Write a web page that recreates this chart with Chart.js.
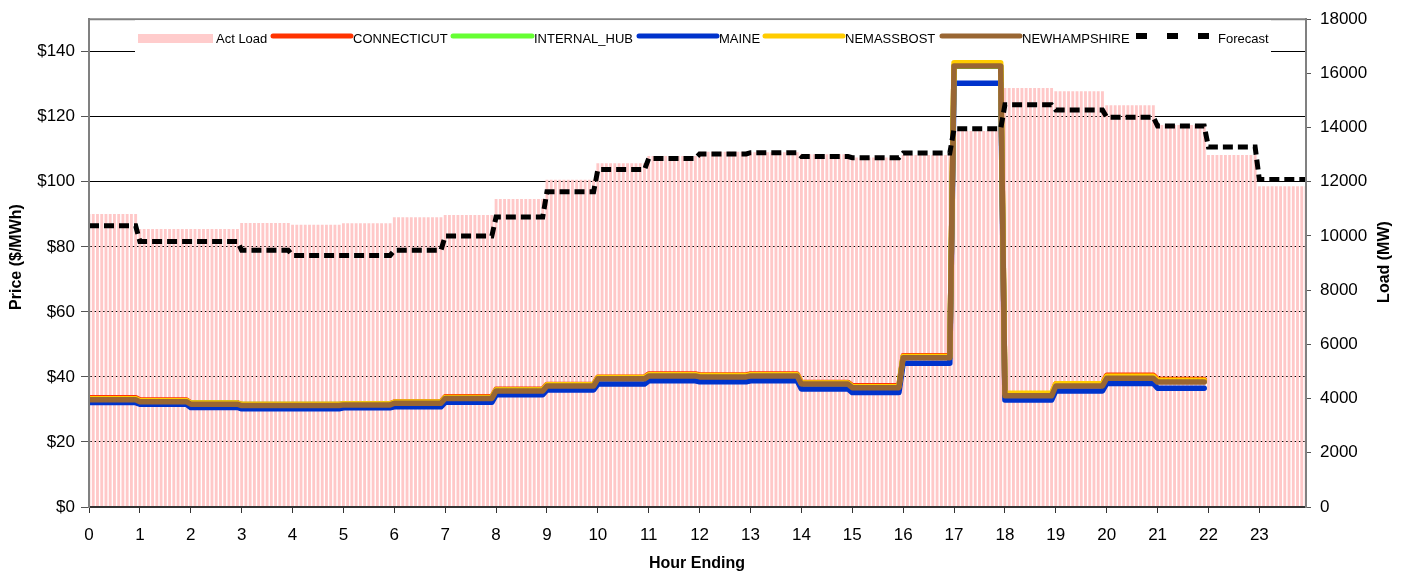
<!DOCTYPE html>
<html>
<head>
<meta charset="utf-8">
<script src="https://cdn.jsdelivr.net/npm/chart.js@4"></script>
<style>
  html, body { margin: 0; padding: 0; background: #fff; }
</style>
</head>
<body>
<canvas id="chart" width="1402" height="573"></canvas>
<script>
// hourly values, hour ending 0..23 (each hour is shown as 12 five-minute steps)
const hourTicks = [0, 1, 2, 3, 4, 5, 6, 7, 8, 9, 10, 11, 12, 13, 14, 15, 16, 17, 18, 19, 20, 21, 22, 23];

const actLoad = [10800, 10250, 10250, 10470, 10400, 10460, 10680, 10760, 11350, 12060, 12670, 12940,
                 13100, 13075, 13000, 12880, 12980, 13860, 15450, 15330, 14815, 14080, 12980, 11820];
const forecast = [10375, 9800, 9800, 9470, 9285, 9285, 9470, 10000, 10700, 11630, 12450, 12860,
                  13030, 13075, 12930, 12890, 13060, 13955, 14840, 14650, 14385, 14055, 13285, 12085];

const connecticut  = [33.6, 32.9, 32.0, 31.5, 31.5, 31.7, 32.3, 33.9, 36.2, 37.7, 39.9, 40.9,
                      40.6, 40.9, 38.3, 37.3, 46.5, 135.5, 34.6, 37.9, 40.5, 39.2, null, null];
const internalHub  = [33.2, 32.6, 31.9, 31.5, 31.5, 31.6, 32.1, 33.6, 35.9, 37.4, 39.6, 40.5,
                      40.2, 40.5, 38.0, 36.9, 46.1, 135.5, 34.5, 37.5, 39.9, 38.7, null, null];
const maine        = [32.1, 31.6, 30.6, 30.2, 30.2, 30.5, 30.8, 32.2, 34.5, 36.0, 37.8, 38.8,
                      38.5, 38.8, 36.3, 35.2, 44.2, 130.3, 32.9, 35.7, 38.0, 36.5, null, null];
const neMassBost   = [33.3, 32.7, 31.9, 31.5, 31.5, 31.7, 32.2, 33.7, 36.0, 37.6, 39.8, 40.7,
                      40.4, 40.7, 38.1, 37.0, 46.3, 136.6, 35.0, 37.9, 40.2, 39.0, null, null];
const newHampshire = [33.0, 32.4, 31.6, 31.2, 31.2, 31.4, 31.9, 33.4, 35.7, 37.2, 39.4, 40.3,
                      40.0, 40.3, 37.8, 36.7, 45.9, 135.6, 34.2, 37.2, 39.6, 38.4, null, null];

// repeat each hourly value over the hour's 12 five-minute intervals
function fiveMinute(hourly) {
  const pts = [];
  hourly.forEach((v, h) => {
    for (let k = 0; k < 12; k++) pts.push({ x: h + k / 12, y: v });
  });
  return pts;
}

const FONT = '"Liberation Sans", Arial, sans-serif';
Chart.defaults.font.family = FONT;
Chart.defaults.color = '#000';

function priceLine(label, data, color, order) {
  return {
    type: 'line', label, data: fiveMinute(data), yAxisID: 'y',
    borderColor: color, backgroundColor: color, borderWidth: 5.5,
    pointRadius: 0, tension: 0, borderJoinStyle: 'round', borderCapStyle: 'round',
    order
  };
}

// frame, legend and axis titles
const overlay = {
  id: 'overlay',
  afterDatasetsDraw(chart) {
    const ctx = chart.ctx, a = chart.chartArea;
    ctx.save();
    ctx.strokeStyle = '#808080';
    ctx.lineWidth = 2;
    ctx.beginPath();
    ctx.moveTo(a.left - 1, a.top);
    ctx.lineTo(a.right + 1, a.top);
    ctx.stroke();

    // legend box inside the plot
    ctx.fillStyle = '#fff';
    ctx.fillRect(135, a.top + 1, 1136, 37);
    ctx.font = '13px ' + FONT;
    ctx.textBaseline = 'alphabetic';
    ctx.textAlign = 'left';
    const ly = 36, ty = 43;
    const lines = [
      ['CONNECTICUT', '#FF3300', 273, 351, 353],
      ['INTERNAL_HUB', '#66FF33', 453, 532, 534],
      ['MAINE', '#0033CC', 639, 717, 719],
      ['NEMASSBOST', '#FFCC00', 765, 843, 845],
      ['NEWHAMPSHIRE', '#996633', 942, 1020, 1022]
    ];
    ctx.fillStyle = '#FFCCCC';
    ctx.fillRect(138, 34, 75, 9);
    ctx.fillStyle = '#000';
    ctx.fillText('Act Load', 216, ty);
    ctx.lineCap = 'round';
    ctx.lineWidth = 5;
    lines.forEach(([label, color, x1, x2, tx]) => {
      ctx.strokeStyle = color;
      ctx.beginPath();
      ctx.moveTo(x1, ly);
      ctx.lineTo(x2, ly);
      ctx.stroke();
      ctx.fillStyle = '#000';
      ctx.fillText(label, tx, ty);
    });
    ctx.fillStyle = '#000';
    [1136, 1167, 1198].forEach(x => ctx.fillRect(x, 33, 11, 6));
    ctx.fillText('Forecast', 1218, ty);

    // axis titles
    ctx.font = 'bold 16px ' + FONT;
    ctx.textAlign = 'center';
    ctx.textBaseline = 'middle';
    ctx.fillText('Hour Ending', 697, 564);
    ctx.save();
    ctx.translate(17, 257);
    ctx.rotate(-Math.PI / 2);
    ctx.fillText('Price ($/MWh)', 0, 0);
    ctx.restore();
    ctx.save();
    ctx.translate(1385, 262);
    ctx.rotate(-Math.PI / 2);
    ctx.fillText('Load (MW)', 0, 0);
    ctx.restore();
    ctx.restore();
  }
};

new Chart(document.getElementById('chart'), {
  type: 'bar',
  data: {
    datasets: [
      {
        type: 'bar', label: 'Act Load', data: fiveMinute(actLoad), yAxisID: 'y1',
        backgroundColor: '#FFC8C8', borderWidth: 0,
        barThickness: 2.2, order: 10
      },
      priceLine('CONNECTICUT', connecticut, '#FF3300', 6),
      priceLine('INTERNAL_HUB', internalHub, '#66FF33', 5),
      priceLine('MAINE', maine, '#0033CC', 4),
      priceLine('NEMASSBOST', neMassBost, '#FFCC00', 3),
      priceLine('NEWHAMPSHIRE', newHampshire, '#996633', 2),
      {
        type: 'line', label: 'Forecast', data: fiveMinute(forecast), yAxisID: 'y1',
        borderColor: '#000', borderWidth: 5, borderDash: [10, 5], borderCapStyle: 'butt',
        pointRadius: 0, tension: 0, order: 1
      }
    ]
  },
  options: {
    responsive: false,
    animation: false,
    events: [],
    layout: { padding: { top: 17, left: 0, right: 0, bottom: 0 } },
    plugins: { legend: { display: false }, tooltip: { enabled: false } },
    scales: {
      x: {
        type: 'linear', min: 0, max: 287 / 12, offset: false,
        afterBuildTicks: s => { s.ticks = hourTicks.map(v => ({ value: v })); },
        afterFit: s => { s.height = 66; },
        ticks: { font: { size: 17 }, padding: 12, maxRotation: 0, autoSkip: false, callback: v => String(v) },
        grid: { offset: false, drawOnChartArea: false, drawTicks: true, tickLength: 6, tickColor: '#333' },
        border: { color: '#333', width: 2, z: 1 }
      },
      y: {
        position: 'left', min: 0, max: 150,
        afterBuildTicks: s => { s.ticks = s.ticks.filter(t => t.value <= 140); },
        afterFit: s => { s.width = 89; },
        ticks: { stepSize: 20, font: { size: 17 }, padding: 6, callback: v => '$' + v },
        grid: { color: '#000', lineWidth: 1, tickLength: 8, tickColor: '#555' },
        border: { color: '#808080', width: 2, z: 1 }
      },
      y1: {
        position: 'right', min: 0, max: 18000,
        afterFit: s => { s.width = 96; },
        ticks: { stepSize: 2000, font: { size: 17 }, padding: 9, callback: v => String(v) },
        grid: { drawOnChartArea: false, tickLength: 5, tickColor: '#555' },
        border: { color: '#808080', width: 2, z: 1 }
      }
    }
  },
  plugins: [overlay]
});
</script>
</body>
</html>
